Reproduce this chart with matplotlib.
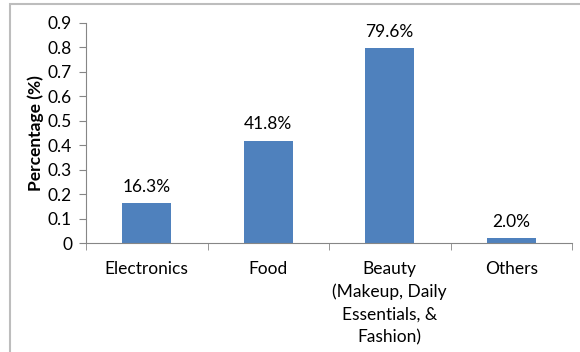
import matplotlib
matplotlib.use('Agg')
import matplotlib.pyplot as plt
from matplotlib.patches import Rectangle
import numpy as np

categories = ['Electronics', 'Food',
              'Beauty\n(Makeup, Daily\nEssentials, &\nFashion)', 'Others']
values = [0.163, 0.418, 0.796, 0.020]
bar_labels = ['16.3%', '41.8%', '79.6%', '2.0%']
yticks = [0, 0.1, 0.2, 0.3, 0.4, 0.5, 0.6, 0.7, 0.8, 0.9]

plt.rcParams['font.family'] = ['Lato', 'DejaVu Sans']
fs = 12.5

fig = plt.figure(figsize=(5.8, 3.52), dpi=100)
fig.patches.append(Rectangle((10 / 580, -0.1), 1.2, 1 - 4 / 352 + 0.1,
                             transform=fig.transFigure, fill=False,
                             edgecolor='#bdbdbd', linewidth=1.5))

ax = fig.add_axes([86 / 580, 1 - 243 / 352, (572 - 86) / 580, 220 / 352])
x = np.arange(len(categories))
bars = ax.bar(x, values, width=0.4, color='#4f81bd')
for b, lab in zip(bars, bar_labels):
    ax.annotate(lab, (b.get_x() + b.get_width() / 2, b.get_height()),
                xytext=(0, 6), textcoords='offset points',
                ha='center', va='bottom', fontsize=fs)

ax.set_xlim(-0.5, len(categories) - 0.5)
ax.set_ylim(0, 0.9)
ax.set_yticks(yticks)
ax.set_yticklabels(['0'] + ['%.1f' % t for t in yticks[1:]], fontsize=fs)
ax.set_xticks(x)
ax.set_xticklabels(categories, fontsize=fs, linespacing=1.5)
ax.tick_params(axis='x', length=0, pad=13)
ax.set_xticks(np.arange(len(categories) + 1) - 0.5, minor=True)
ax.tick_params(axis='x', which='minor', length=5, color='#868686')
ax.tick_params(axis='y', length=5, color='#868686', pad=5)
ax.set_ylabel('Percentage (%)', fontsize=fs, fontweight='bold', labelpad=3)

for s in ['top', 'right']:
    ax.spines[s].set_visible(False)
for s in ['left', 'bottom']:
    ax.spines[s].set_color('#868686')

fig.savefig('out.png', dpi=100)
